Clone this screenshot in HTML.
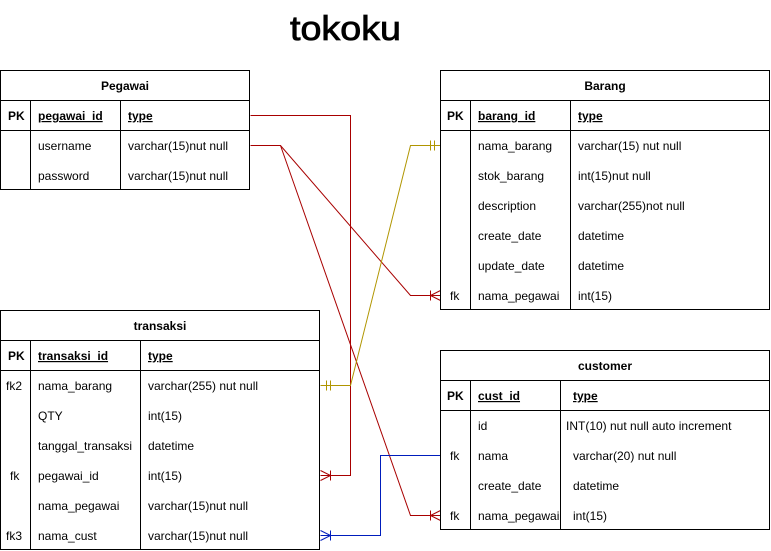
<!DOCTYPE html>
<html><head><meta charset="utf-8"><style>
html,body{margin:0;padding:0;background:#fff;}
svg{display:block;font-family:"Liberation Sans",Arial,sans-serif;}
.t{font-size:12px;fill:#000;}
.b{font-weight:bold;}
.u{text-decoration:underline;}
</style></head><body>
<svg width="771" height="551" viewBox="0 0 771 551" xmlns="http://www.w3.org/2000/svg">
<rect width="771" height="551" fill="#fff"/>
<text x="290" y="40" font-size="34" textLength="111" lengthAdjust="spacingAndGlyphs" fill="#000" stroke="#000" stroke-width="0.8">tokoku</text>

<!-- connectors -->
<g fill="none" stroke-width="1">
<path d="M250.5 115.5H350.5V475.5H320.5" stroke="#a80000"/>
<path d="M250.5 145.5H280.5L410.5 295.5H440.5" stroke="#a80000"/>
<path d="M280.5 145.5L410.5 515.5H440.5" stroke="#a80000"/>
<path d="M320.5 385.5H350.5L410.5 145.5H440.5" stroke="#b09500"/>
<path d="M320.5 535.5H380.5V455.5H440.5" stroke="#001dbc"/>
<path d="M320.5 470.5L330.5 475.5L320.5 480.5M330.5 470.5V480.5" stroke="#a80000"/>
<path d="M440.5 290.5L430.5 295.5L440.5 300.5M430.5 290.5V300.5" stroke="#a80000"/>
<path d="M440.5 510.5L430.5 515.5L440.5 520.5M430.5 510.5V520.5" stroke="#a80000"/>
<path d="M320.5 530.5L330.5 535.5L320.5 540.5M330.5 530.5V540.5" stroke="#001dbc"/>
<path d="M326.5 380.5V390.5M330.5 380.5V390.5" stroke="#b09500"/>
<path d="M430.5 140.5V150.5M434.5 140.5V150.5" stroke="#b09500"/>
</g>

<g fill="none" stroke="#000" stroke-width="1">
<rect x="0.5" y="70.5" width="249" height="119"/>
<path d="M0.5 100.5H249.5M0.5 130.5H249.5M30.5 100.5V189.5M120.5 100.5V189.5"/>
<rect x="440.5" y="70.5" width="329" height="239"/>
<path d="M440.5 100.5H769.5M440.5 130.5H769.5M470.5 100.5V309.5M570.5 100.5V309.5"/>
<rect x="0.5" y="310.5" width="319" height="239"/>
<path d="M0.5 340.5H319.5M0.5 370.5H319.5M30.5 340.5V549.5M140.5 340.5V549.5"/>
<rect x="440.5" y="350.5" width="329" height="179"/>
<path d="M440.5 380.5H769.5M440.5 410.5H769.5M470.5 380.5V529.5M560.5 380.5V529.5"/>
</g>

<g class="t">
<text x="125" y="90" text-anchor="middle" class="b">Pegawai</text>
<text x="8" y="120" class="b">PK</text>
<text x="38" y="120" class="b u">pegawai_id</text>
<text x="128" y="120" class="b u">type</text>
<text x="38" y="150">username</text><text x="128" y="150">varchar(15)nut null</text>
<text x="38" y="180">password</text><text x="128" y="180">varchar(15)nut null</text>

<text x="605" y="90" text-anchor="middle" class="b">Barang</text>
<text x="447" y="120" class="b">PK</text>
<text x="478" y="120" class="b u">barang_id</text>
<text x="578" y="120" class="b u">type</text>
<text x="478" y="150">nama_barang</text><text x="578" y="150">varchar(15) nut null</text>
<text x="478" y="180">stok_barang</text><text x="578" y="180">int(15)nut null</text>
<text x="478" y="210">description</text><text x="578" y="210">varchar(255)not null</text>
<text x="478" y="240">create_date</text><text x="578" y="240">datetime</text>
<text x="478" y="270">update_date</text><text x="578" y="270">datetime</text>
<text x="450" y="300">fk</text><text x="478" y="300">nama_pegawai</text><text x="578" y="300">int(15)</text>

<text x="160" y="330" text-anchor="middle" class="b">transaksi</text>
<text x="8" y="360" class="b">PK</text>
<text x="38" y="360" class="b u">transaksi_id</text>
<text x="148" y="360" class="b u">type</text>
<text x="6" y="390">fk2</text><text x="38" y="390">nama_barang</text><text x="148" y="390">varchar(255) nut null</text>
<text x="38" y="420">QTY</text><text x="148" y="420">int(15)</text>
<text x="38" y="450">tanggal_transaksi</text><text x="148" y="450">datetime</text>
<text x="10" y="480">fk</text><text x="38" y="480">pegawai_id</text><text x="148" y="480">int(15)</text>
<text x="38" y="510">nama_pegawai</text><text x="148" y="510">varchar(15)nut null</text>
<text x="6" y="540">fk3</text><text x="38" y="540">nama_cust</text><text x="148" y="540">varchar(15)nut null</text>

<text x="605" y="370" text-anchor="middle" class="b">customer</text>
<text x="447" y="400" class="b">PK</text>
<text x="478" y="400" class="b u">cust_id</text>
<text x="573" y="400" class="b u">type</text>
<text x="478" y="430">id</text><text x="566" y="430">INT(10) nut null auto increment</text>
<text x="450" y="460">fk</text><text x="478" y="460">nama</text><text x="573" y="460">varchar(20) nut null</text>
<text x="478" y="490">create_date</text><text x="573" y="490">datetime</text>
<text x="450" y="520">fk</text><text x="478" y="520">nama_pegawai</text><text x="573" y="520">int(15)</text>
</g>
</svg>
</body></html>
